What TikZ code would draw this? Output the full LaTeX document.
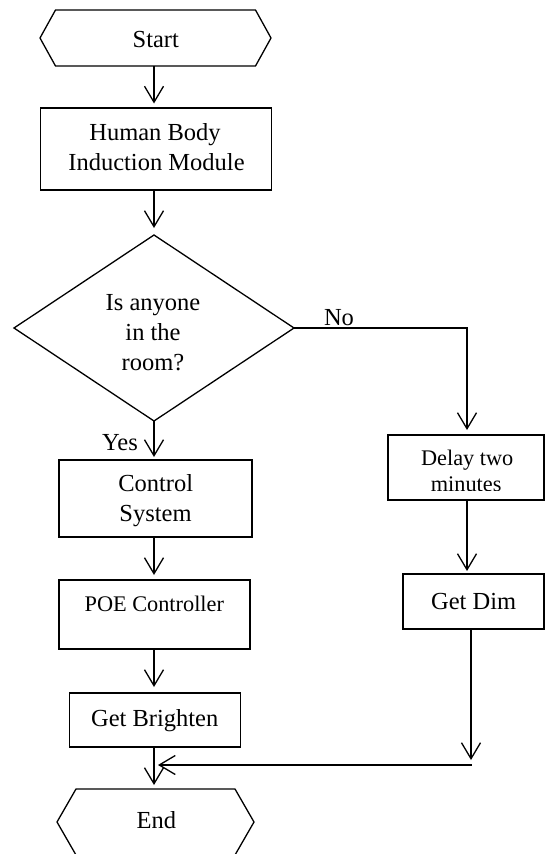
\documentclass[tikz,border=0pt]{standalone}
\usepackage{fontspec}
\setmainfont{Liberation Serif}
\usetikzlibrary{arrows.meta,calc}
\begin{document}
\begin{tikzpicture}[x=1pt,y=-1pt,
  ln/.style={line width=1.3pt},
  box/.style={draw,ln,inner sep=0pt,outer sep=0pt},
  shapebox/.style={inner sep=0pt,outer sep=0pt},
  arr/.style={ln,-{Straight Barb[length=16pt,width=19pt]}},
  big/.style={inner sep=0pt,anchor=base,font=\fontsize{24.5}{30}\selectfont},
  small/.style={inner sep=0pt,anchor=base,font=\fontsize{22.3}{26}\selectfont},
]
\useasboundingbox (0,0) rectangle (546,854);
\clip (0,0) rectangle (546,854);

% column coordinates
\coordinate (colL) at (154,0);
\coordinate (colR1) at (467,0);
\coordinate (colR2) at (471,0);
\coordinate (mdown) at (471,760);
\coordinate (mstart) at (471.5,765);
\coordinate (mtip) at (158,765);

% Start
\node[shapebox,minimum width=231pt,minimum height=56pt] (start) at (155.5,38) {};
\draw[ln] (start.west) -- ($(start.north west)+(15.5,0)$) -- ($(start.north east)+(-15.5,0)$) -- (start.east) -- ($(start.south east)+(-15.5,0)$) -- ($(start.south west)+(15.5,0)$) -- cycle;
\node[big] (tstart) at (155.8,47.5) {Start};

% Human Body Induction Module
\node[box,minimum width=231pt,minimum height=82pt] (hbim) at (156.2,149) {};
\node[big] (th1) at (155,140) {Human Body};
\node[big] (th2) at (156.5,170) {Induction Module};

% Decision
\node[shapebox,minimum width=280pt,minimum height=186pt] (dia) at (154,328) {};
\draw[ln] (dia.north) -- (dia.east) -- (dia.south) -- (dia.west) -- cycle;
\node[big] (td1) at (153,310) {Is anyone};
\node[big] (td2) at (153,340) {in the};
\node[big] (td3) at (153,370) {room?};

% Control System
\node[box,minimum width=193pt,minimum height=77pt] (ctrl) at (155.5,498.5) {};
\node[big] (tc1) at (155.7,491.7) {Control};
\node[big] (tc2) at (155.5,521.7) {System};

% POE Controller
\node[box,minimum width=191pt,minimum height=69pt] (poe) at (154.5,614.5) {};
\node[small] (tp) at (154.3,611) {POE Controller};

% Get Brighten
\node[box,minimum width=171pt,minimum height=54pt] (gb) at (155,720) {};
\node[big] (tg) at (154.7,726.7) {Get Brighten};

% End
\node[shapebox,minimum width=197pt,minimum height=66pt] (endh) at (155.5,822) {};
\draw[ln] (endh.west) -- ($(endh.north west)+(19,0)$) -- ($(endh.north east)+(-19,0)$) -- (endh.east) -- ($(endh.south east)+(-19,0)$) -- ($(endh.south west)+(19,0)$) -- cycle;
\node[big] (te) at (156.3,828) {End};

% Delay two minutes
\node[box,minimum width=156pt,minimum height=65pt] (delay) at (466,467.5) {};
\node[small] (tdl1) at (467.2,465.7) {Delay two};
\begin{scope}
\clip (380,470) rectangle (550,490.5);
\node[small] (tdl2) at (466.2,491.5) {minutes};
\end{scope}

% Get Dim
\node[box,minimum width=141pt,minimum height=55pt] (getdim) at (473.5,601.5) {};
\node[big] (tgd) at (473.7,609) {Get Dim};

% labels
\node[big] (lno) at (339,325) {No};
\node[big] (lyes) at (120,450) {Yes};

% connectors
\draw[arr,shorten >=4.5pt] (start.south -| colL) -- (hbim.north -| colL);
\draw[arr,shorten >=7pt] (hbim.south -| colL) -- (dia.north);
\draw[arr,shorten >=5pt] (dia.east) -| (delay.north -| colR1);
\draw[arr,shorten >=3pt] (dia.south) -- (ctrl.north -| dia.south);
\draw[arr,shorten >=5pt] (ctrl.south -| colL) -- (poe.north -| colL);
\draw[arr,shorten >=6pt] (poe.south -| colL) -- (gb.north -| colL);
\draw[arr,shorten >=4pt] (gb.south -| colL) -- (endh.north -| colL);
\draw[arr,shorten >=3pt] (delay.south -| colR1) -- (getdim.north -| colR1);
\draw[arr] (getdim.south -| colR2) -- (mdown);
\draw[arr] (mstart) -- (mtip);
\end{tikzpicture}
\end{document}
